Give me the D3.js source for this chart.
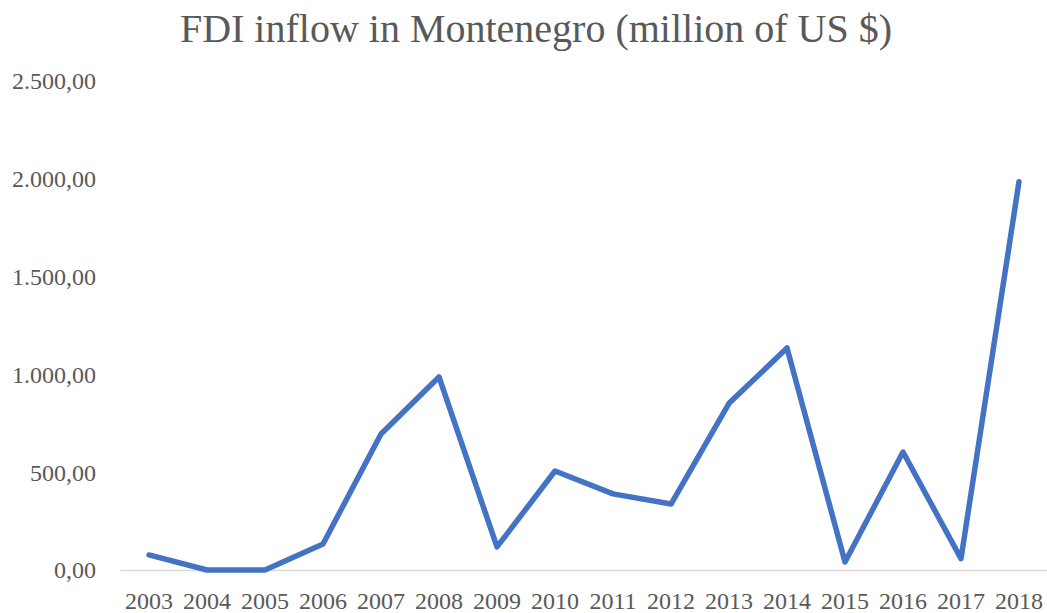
<!DOCTYPE html>
<html>
<head>
<meta charset="utf-8">
<script src="https://cdn.jsdelivr.net/npm/d3@7"></script>
<style>
  html, body { margin: 0; padding: 0; background: #fff; }
  svg { display: block; }
  text { font-family: "Liberation Serif", "DejaVu Serif", serif; fill: #595959; }
</style>
</head>
<body>
<svg id="chart" width="1047" height="613"></svg>
<script>
// FDI inflow in Montenegro, million of US $
const years = ["2003","2004","2005","2006","2007","2008","2009","2010",
               "2011","2012","2013","2014","2015","2016","2017","2018"];
const fdi = [77, 0, 0, 133, 695, 987, 118, 506, 389, 337, 852, 1135, 41, 603, 58, 1985];
const yTicks = [0, 500, 1000, 1500, 2000, 2500];
const title = "FDI inflow in Montenegro (million of US $)";

const svg = d3.select("#chart");

const x = d3.scaleBand().domain(years).range([120, 1048]);
const y = d3.scaleLinear().domain([0, 2500]).range([570, 81]);

// number format with "." thousands and "," decimals
const loc = d3.formatLocale({ decimal: ",", thousands: ".", grouping: [3], currency: ["", ""] });
const fmt = loc.format(",.2f");

// title
svg.append("text")
  .attr("x", 536).attr("y", 42)
  .attr("text-anchor", "middle")
  .style("font-size", "40px")
  .text(title);

// y axis labels (no line, no ticks)
const yAxis = d3.axisLeft(y).tickValues(yTicks).tickFormat(fmt).tickSize(0).tickPadding(0);
const gy = svg.append("g").attr("transform", "translate(96,0)").call(yAxis);
gy.select(".domain").remove();
gy.selectAll("text")
  .style("font-family", "'Liberation Serif', serif")
  .style("font-size", "24px")
  .attr("fill", "#595959")
  .attr("dy", "0.33em");

// x axis: baseline + year labels
const xAxis = d3.axisBottom(x).tickSize(0).tickPadding(0);
const gx = svg.append("g").attr("transform", "translate(0,570)").call(xAxis);
gx.select(".domain").attr("stroke", "#d9d9d9").attr("stroke-width", 1.5);
gx.selectAll("text")
  .style("font-family", "'Liberation Serif', serif")
  .style("font-size", "24px")
  .attr("fill", "#595959")
  .attr("y", 39).attr("dy", 0);

// series line
const line = d3.line()
  .x((d, i) => x(years[i]) + x.bandwidth() / 2)
  .y(d => y(d));

svg.append("path")
  .datum(fdi)
  .attr("d", line)
  .attr("fill", "none")
  .attr("stroke", "#4472C4")
  .attr("stroke-width", 5.5)
  .attr("stroke-linejoin", "round")
  .attr("stroke-linecap", "round");
</script>
</body>
</html>
